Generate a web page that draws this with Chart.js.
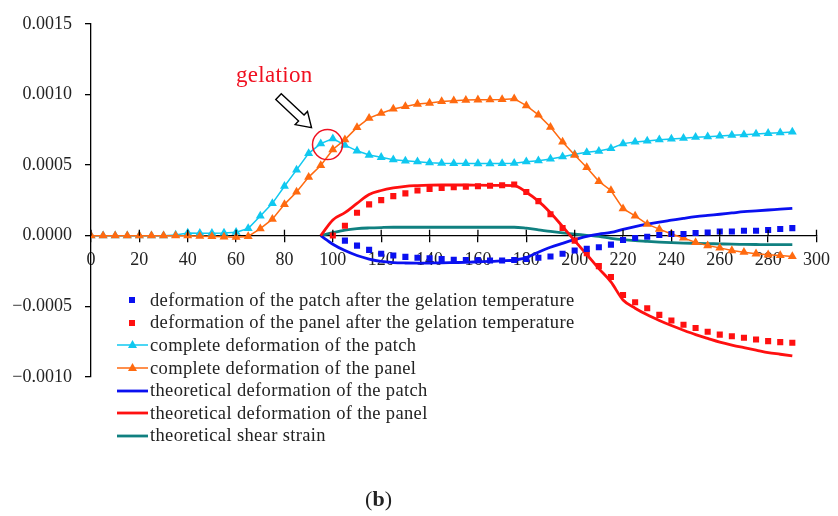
<!DOCTYPE html>
<html>
<head>
<meta charset="utf-8">
<script src="https://cdn.jsdelivr.net/npm/chart.js@4.4.1/dist/chart.umd.min.js"></script>
<style>
  body { margin: 0; background: #fff; }
  #wrap { position: relative; width: 838px; height: 516px; font-family: "Liberation Serif", serif; color: #222; }
  #legend { position: absolute; left: 117px; top: 289px; font-size: 18.5px; letter-spacing: 0.35px; }
  .row { display: flex; align-items: center; height: 22.6px; white-space: nowrap; }
  .row svg { width: 31px; height: 22px; margin-right: 2px; }
  #gel { position: absolute; left: 236px; top: 62px; font-size: 23px; letter-spacing: 0.3px; color: #f01020; }
  #cap { position: absolute; left: 0; width: 757px; top: 486px; text-align: center; font-size: 22px; }
</style>
</head>
<body>
<div id="wrap">
  <canvas id="mychart" width="838" height="516"></canvas>
  <div id="gel">gelation</div>
  <div id="legend"></div>
  <div id="cap">(<b>b</b>)</div>
</div>
<script>
const temps = [0,5,10,15,20,25,30,35,40,45,50,55,60,65,70,75,80,85,90,95,100,105,110,115,120,125,130,135,140,145,150,155,160,165,170,175,180,185,190,195,200,205,210,215,220,225,230,235,240,245,250,255,260,265,270,275,280,285,290]
const _ = null

const patchAfter = [_,_,_,_,_,_,_,_,_,_,_,_,_,_,_,_,_,_,_,_,_,
  -0.000035,-0.00007,-0.0001,-0.000128,-0.00014,-0.00015,-0.000156,-0.00016,-0.000165,-0.00017,-0.000172,-0.000174,-0.000175,-0.000175,-0.000172,-0.000165,-0.000156,-0.000147,-0.000128,-0.000105,-0.000093,-0.000082,-0.000063,-0.00003,-0.000016,-0.000007,0.000005,0.000012,0.000012,0.000019,0.000023,0.00003,0.00003,0.000035,0.000035,0.00004,0.000047,0.000054]
const panelAfter = [_,_,_,_,_,_,_,_,_,_,_,_,_,_,_,_,_,_,_,_,
  0.000002,0.00007,0.000163,0.000222,0.000252,0.00028,0.0003,0.00032,0.000331,0.000338,0.000343,0.000347,0.00035,0.000354,0.000357,0.000362,0.00031,0.000245,0.000152,0.000055,-0.000035,-0.000124,-0.000215,-0.000292,-0.00042,-0.000471,-0.000513,-0.00056,-0.0006,-0.00063,-0.000653,-0.00068,-0.0007,-0.000711,-0.000722,-0.000734,-0.000746,-0.000753,-0.000757]
const patchComplete = [0,0,0,0,0,0,0,0.000005,0.00002,0.000018,0.000018,0.00002,0.000025,0.000051,0.00014,0.000229,0.00035,0.000466,0.000583,0.000652,0.000687,0.000641,0.000601,0.000571,0.000555,0.000538,0.00053,0.000524,0.000517,0.000513,0.000512,0.000512,0.000511,0.000511,0.000512,0.000513,0.000524,0.000531,0.000543,0.000559,0.000576,0.00059,0.000599,0.000618,0.000652,0.000664,0.000671,0.00068,0.000685,0.00069,0.000697,0.000701,0.000706,0.000711,0.000715,0.00072,0.000725,0.000729,0.000734]
const panelComplete = [0,0,0,0,0,0,0,0,0,-0.000003,-0.000005,-0.000008,-0.00001,-0.000005,0.00005,0.000117,0.000222,0.00031,0.000415,0.000497,0.00061,0.00068,0.000767,0.000832,0.000867,0.000897,0.000915,0.000932,0.000939,0.00095,0.000956,0.00096,0.000962,0.000963,0.000965,0.00097,0.000921,0.000855,0.000769,0.000664,0.000571,0.000483,0.000385,0.00032,0.000191,0.00014,0.000082,0.000047,0.000012,-0.000016,-0.000047,-0.00007,-0.000086,-0.000105,-0.000117,-0.000128,-0.000135,-0.00014,-0.000147]
const patchTheory = [_,_,_,_,_,_,_,_,_,_,_,_,_,_,_,_,_,_,_,
  0,-0.00006,-0.000105,-0.00014,-0.000165,-0.000182,-0.00019,-0.000193,-0.000194,-0.000193,-0.000192,-0.00019,-0.000188,-0.000185,-0.000182,-0.000178,-0.000172,-0.000155,-0.000117,-0.000082,-0.000054,-0.000028,-0.000005,0.000012,0.000023,0.000045,0.000065,0.000082,0.000097,0.00011,0.000123,0.000135,0.000144,0.000152,0.000161,0.00017,0.000176,0.000182,0.000188,0.000194]
const panelTheory = [_,_,_,_,_,_,_,_,_,_,_,_,_,_,_,_,_,_,_,
  0,0.000112,0.000163,0.000229,0.000292,0.00032,0.000338,0.00035,0.000355,0.000358,0.000359,0.000359,0.000359,0.000358,0.000357,0.000356,0.000354,0.000308,0.000245,0.000163,0.000065,-0.000035,-0.000133,-0.000233,-0.000327,-0.000455,-0.000513,-0.00056,-0.0006,-0.000636,-0.000669,-0.0007,-0.000727,-0.000753,-0.000774,-0.000792,-0.000809,-0.000827,-0.000839,-0.000851]
const shearTheory = [_,_,_,_,_,_,_,_,_,_,_,_,_,_,_,_,_,_,_,
  0,0.000022,0.00004,0.00005,0.000055,0.000058,0.00006,0.00006,0.00006,0.00006,0.00006,0.00006,0.00006,0.00006,0.00006,0.00006,0.00006,0.000053,0.000042,0.00003,0.00002,0.000012,0.000003,-0.000005,-0.000018,-0.000028,-0.000035,-0.00004,-0.000045,-0.000049,-0.000052,-0.000054,-0.000056,-0.000058,-0.00006,-0.000061,-0.000062,-0.000063,-0.000063,-0.000063]

const seriesNames = [
  'deformation of the patch after the gelation temperature',
  'deformation of the panel after the gelation temperature',
  'complete deformation of the patch',
  'complete deformation of the panel',
  'theoretical deformation of the patch',
  'theoretical deformation of the panel',
  'theoretical shear strain'
]
const xTickLabels = ['0','20','40','60','80','100','120','140','160','180','200','220','240','260','280','300']
const yTickLabels = ['\u22120.0010','\u22120.0005','0.0000','0.0005','0.0010','0.0015']

const blue = '#0a10f0', red = '#ff1010', cyan = '#10c8f0', orange = '#ff6a10', teal = '#108080'

function pts(vals){
  return temps.map((t, i) => ({x: t, y: vals[i]})).filter(p => p.y !== null)
}
function dots(label, vals, color, order){
  return {label, data: pts(vals), showLine: false, pointStyle: 'rect', pointRadius: 4.3,
    pointBackgroundColor: color, pointBorderWidth: 0, borderColor: color, order, kind: 'dot'}
}
function tri(label, vals, color, order){
  return {label, data: pts(vals), borderColor: color, borderWidth: 1.5, pointStyle: 'triangle', pointRadius: 5.2,
    pointBackgroundColor: color, pointBorderColor: color, pointBorderWidth: 0, tension: 0, order, kind: 'tri'}
}
function line(label, vals, color, order){
  return {label, data: pts(vals), borderColor: color, borderWidth: 2.8, pointRadius: 0,
    cubicInterpolationMode: 'monotone', order, kind: 'line'}
}

// upper half of the x ticks, circle + arrow at gelation
const extras = {
  id: 'extras',
  afterDraw(chart){
    const ctx = chart.ctx
    const xs = chart.scales.x, ys = chart.scales.y
    const y0 = ys.getPixelForValue(0)
    ctx.save()
    ctx.strokeStyle = '#000'
    ctx.lineWidth = 1.3
    xs.ticks.forEach(t => {
      const px = xs.getPixelForValue(t.value)
      ctx.beginPath(); ctx.moveTo(px, y0); ctx.lineTo(px, y0 - 6); ctx.stroke()
    })
    const cx = xs.getPixelForValue(97.8), cy = ys.getPixelForValue(0.000645)
    ctx.strokeStyle = '#f01020'
    ctx.lineWidth = 1.5
    ctx.beginPath(); ctx.arc(cx, cy, 15, 0, Math.PI * 2); ctx.stroke()
    const tip = [cx - 16, cy - 17], tail = [cx - 49, cy - 48]
    let ux = tip[0] - tail[0], uy = tip[1] - tail[1]
    const len = Math.hypot(ux, uy); ux /= len; uy /= len
    const nx = -uy, ny = ux
    const nk = [tip[0] - ux * 14, tip[1] - uy * 14]
    ctx.beginPath()
    ctx.moveTo(tail[0] + nx * 4, tail[1] + ny * 4)
    ctx.lineTo(nk[0] + nx * 4, nk[1] + ny * 4)
    ctx.lineTo(nk[0] + nx * 9, nk[1] + ny * 9)
    ctx.lineTo(tip[0], tip[1])
    ctx.lineTo(nk[0] - nx * 9, nk[1] - ny * 9)
    ctx.lineTo(nk[0] - nx * 4, nk[1] - ny * 4)
    ctx.lineTo(tail[0] - nx * 4, tail[1] - ny * 4)
    ctx.closePath()
    ctx.fillStyle = '#fff'; ctx.fill()
    ctx.strokeStyle = '#000'; ctx.lineWidth = 1.4; ctx.stroke()
    ctx.restore()
  }
}

const myChart = new Chart(document.getElementById('mychart'), {
  type: 'line',
  data: {
    datasets: [
      dots(seriesNames[0], patchAfter, blue, 0),
      dots(seriesNames[1], panelAfter, red, 1),
      tri(seriesNames[2], patchComplete, cyan, 3),
      tri(seriesNames[3], panelComplete, orange, 2),
      line(seriesNames[4], patchTheory, blue, 5),
      line(seriesNames[5], panelTheory, red, 4),
      line(seriesNames[6], shearTheory, teal, 6)
    ]
  },
  options: {
    responsive: false,
    animation: false,
    layout: {padding: {left: 0, right: 16, top: 20, bottom: 139}},
    plugins: {legend: {display: false}, tooltip: {enabled: false}},
    scales: {
      x: {
        type: 'linear', position: {y: 0}, min: 0, max: 300,
        afterFit(s){ s.height = 0 },
        border: {color: '#000', width: 1.3},
        grid: {drawOnChartArea: false, tickLength: 6, color: '#000', lineWidth: 1.3},
        ticks: {stepSize: 20, autoSkip: false, maxRotation: 0, padding: 8, color: '#222',
          font: {family: 'Liberation Serif', size: 18}, callback: (v, i) => xTickLabels[i]}
      },
      y: {
        min: -0.001, max: 0.0015,
        afterFit(s){ s.width = 91 },
        border: {color: '#000', width: 1.3},
        grid: {drawOnChartArea: false, tickLength: 6, color: '#000', lineWidth: 1.3},
        ticks: {stepSize: 0.0005, padding: 13, color: '#222',
          font: {family: 'Liberation Serif', size: 18}, callback: (v, i) => yTickLabels[i]}
      }
    }
  },
  plugins: [extras]
})

const legend = document.getElementById('legend')
myChart.data.datasets.forEach(ds => {
  const c = ds.borderColor
  let svg = ''
  if(ds.kind === 'dot'){
    svg = `<rect x="12" y="8" width="6" height="6" fill="${c}"/>`
  }else if(ds.kind === 'tri'){
    svg = `<line x1="0" y1="11" x2="31" y2="11" stroke="${c}" stroke-width="1.5"/><polygon points="15.5,6 20,14 11,14" fill="${c}"/>`
  }else{
    svg = `<line x1="0" y1="11" x2="31" y2="11" stroke="${c}" stroke-width="2.8"/>`
  }
  const row = document.createElement('div')
  row.className = 'row'
  row.innerHTML = `<svg viewBox="0 0 31 22">${svg}</svg><span>${ds.label}</span>`
  legend.appendChild(row)
})
</script>
</body>
</html>
